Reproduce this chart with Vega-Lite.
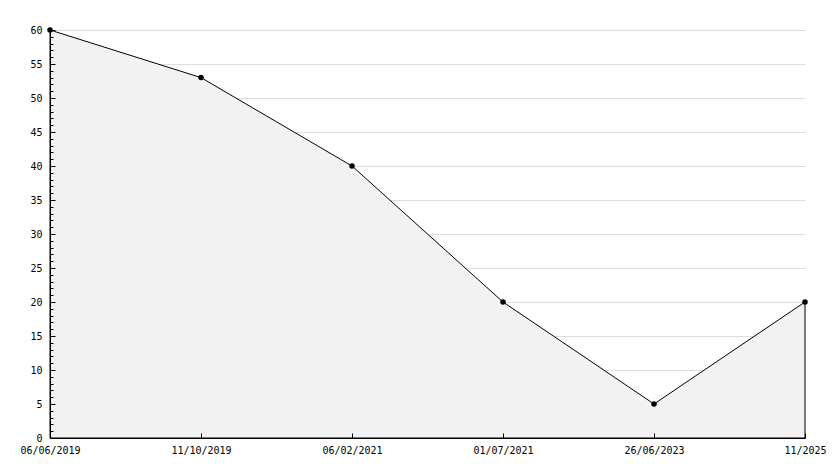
{
  "$schema": "https://vega.github.io/schema/vega-lite/v6.json",
  "autosize": "none",
  "width": 755,
  "height": 408,
  "padding": {"left": 50, "top": 30, "right": 29, "bottom": 30},
  "background": "white",
  "config": {
    "view": {"stroke": null},
    "axis": {"labelFont": "DejaVu Sans Mono", "labelFontSize": 10, "labelColor": "#000", "domainColor": "#000", "tickColor": "#000", "title": null}
  },
  "data": {"values": [
    {"date": "06/06/2019", "value": 60},
    {"date": "11/10/2019", "value": 53},
    {"date": "06/02/2021", "value": 40},
    {"date": "01/07/2021", "value": 20},
    {"date": "26/06/2023", "value": 5},
    {"date": "11/2025", "value": 20}
  ]},
  "resolve": {"axis": {"y": "independent"}},
  "layer": [
    {
      "mark": {"type": "area", "fill": "#f2f2f2", "fillOpacity": 1, "opacity": 1, "stroke": "#000", "strokeWidth": 1},
      "encoding": {
        "x": {"field": "date", "type": "ordinal", "sort": null,
          "scale": {"type": "point", "padding": 0},
          "axis": {"labelAngle": 0, "ticks": true, "tickSize": -5, "tickWidth": 1, "labelPadding": 12, "grid": false, "domainWidth": 1, "zindex": 2}},
        "y": {"field": "value", "type": "quantitative",
          "scale": {"domain": [0, 60], "nice": false},
          "axis": {"orient": "left", "tickCount": 12, "labels": false, "ticks": false, "domain": false, "zindex": 0,
            "grid": true, "gridColor": "#dddddd",
            "gridOpacity": {"condition": {"test": "datum.value > 0", "value": 1}, "value": 0}}}
      }
    },
    {
      "mark": {"type": "point", "shape": "circle", "filled": true, "color": "#000", "size": 30, "opacity": 1},
      "encoding": {
        "x": {"field": "date", "type": "ordinal", "sort": null},
        "y": {"field": "value", "type": "quantitative",
          "axis": {"orient": "left", "tickCount": 60, "ticks": true, "tickWidth": 1, "zindex": 2, "grid": false,
            "labelExpr": "datum.value % 5 === 0 ? datum.label : ''",
            "tickSize": {"condition": {"test": "datum.value % 5 === 0", "value": -5}, "value": -3},
            "labelPadding": 13}}
      }
    }
  ]
}
